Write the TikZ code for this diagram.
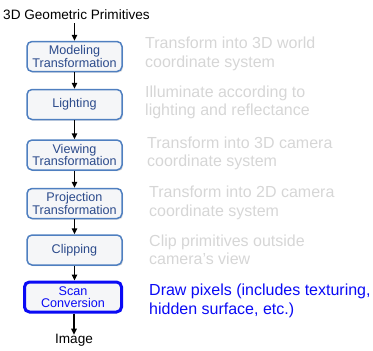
\documentclass[tikz,border=0pt]{standalone}
\usepackage{fontspec}
\setmainfont{Liberation Sans}
\usetikzlibrary{arrows.meta,shadows}
\definecolor{stageborder}{HTML}{4F7FC0}
\definecolor{stagefill}{HTML}{F5F6F8}
\definecolor{stagetext}{HTML}{2B4A8B}
\definecolor{notegray}{HTML}{D6D6D6}
\definecolor{activeblue}{HTML}{0A0AF5}
\tikzset{
  x=1pt, y=1pt,
  stage/.style={draw=stageborder, line width=1.5pt, fill=stagefill,
    rounded corners=5pt, minimum width=95pt, minimum height=30pt,
    inner sep=0pt, align=center, text=stagetext,
    font=\fontsize{12.6}{11.5}\selectfont,
    drop shadow={shadow xshift=1.2pt, shadow yshift=-1.2pt, opacity=0.12, fill=black}},
  active/.style={stage, draw=activeblue, line width=3pt, text=activeblue,
    minimum width=97pt},
  note/.style={anchor=west, align=left, inner sep=0pt, text=notegray,
    font=\fontsize{16}{18.5}\selectfont},
  activenote/.style={note, text=activeblue},
  plain/.style={inner sep=0pt, font=\fontsize{13.6}{15}\selectfont},
  flow/.style={-{Triangle[length=6pt,width=5.5pt]}, line width=1.5pt, black},
}
\begin{document}
\begin{tikzpicture}
\useasboundingbox (0,0) rectangle (373,-351);

% input and output labels
\node[plain] (input) at (76.5,-15) {3D Geometric Primitives};
\node[plain] (output) at (74,-340) {Image};

% pipeline stages
\node[stage]  (model) at (74.5,-56.5) {Modeling\\Transformation};
\node[stage]  (light) at (74.5,-104.5) {Lighting};
\node[stage]  (view)  at (74.5,-155) {Viewing\\Transformation};
\node[stage]  (proj)  at (74.5,-203.5) {Projection\\Transformation};
\node[stage]  (clip)  at (74.5,-250) {Clipping};
\node[active] (scan)  at (73,-297) {Scan\\Conversion};

% connectors
\coordinate (intop) at (74.5,-23);
\draw[flow] (intop) -- (model.north);
\draw[flow] (model) -- (light);
\draw[flow] (light) -- (view);
\draw[flow] (view) -- (proj);
\draw[flow] (proj) -- (clip);
\draw[flow] (clip.south) -- (clip.south |- scan.north);
\draw[flow] (scan.south -| output) -- ([yshift=-1pt]output.north);

% stage descriptions
\node[note] (nmodel) at (145,-54) {Transform into 3D world\\coordinate system};
\node[note] (nlight) at (145,-102.5) {Illuminate according to\\lighting and reflectance};
\node[note] (nview)  at (147,-153.5) {Transform into 3D camera\\coordinate system};
\node[note] (nproj)  at (149,-203) {Transform into 2D camera\\coordinate system};
\node[note] (nclip)  at (149,-250) {Clip primitives outside\\camera’s view};
\node[activenote] (nscan) at (149,-301) {Draw pixels (includes texturing,\\hidden surface, etc.)};
\end{tikzpicture}
\end{document}
